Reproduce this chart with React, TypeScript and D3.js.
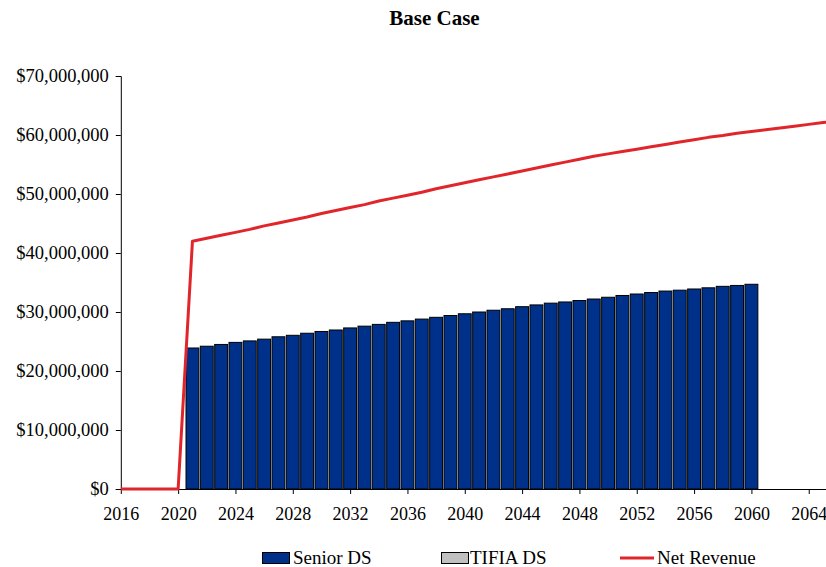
import React, { useEffect, useRef } from "react";
import * as d3 from "d3";

// years on the category axis (chart is cut off at the right edge)
const years = d3.range(2016, 2067);
const xTickYears = [2016, 2020, 2024, 2028, 2032, 2036, 2040, 2044, 2048, 2052, 2056, 2060, 2064];
const yTicks = [0, 10e6, 20e6, 30e6, 40e6, 50e6, 60e6, 70e6];

// Senior DS, 2021..2060 ($M)
const seniorYears = d3.range(2021, 2061);
const seniorDS = [
  23.9, 24.2, 24.5, 24.85, 25.1, 25.4, 25.8, 26.05, 26.4, 26.7,
  26.95, 27.3, 27.6, 27.9, 28.25, 28.5, 28.8, 29.1, 29.4, 29.7,
  30.0, 30.3, 30.55, 30.9, 31.2, 31.5, 31.7, 31.95, 32.2, 32.5,
  32.8, 33.05, 33.3, 33.55, 33.7, 33.9, 34.1, 34.35, 34.5, 34.7,
];

// Net Revenue, 2016..2066 ($M)
const netRevenue = [
  0, 0, 0, 0, 0,
  42.0, 42.5, 43.0, 43.5, 44.0, 44.6, 45.1, 45.6, 46.1, 46.7,
  47.2, 47.7, 48.2, 48.8, 49.3, 49.8, 50.3, 50.9, 51.4, 51.9,
  52.4, 52.9, 53.4, 53.9, 54.4, 54.9, 55.4, 55.9, 56.4, 56.8,
  57.2, 57.6, 58.0, 58.4, 58.8, 59.2, 59.6, 59.9, 60.3, 60.6,
  60.9, 61.2, 61.5, 61.8, 62.1, 62.4,
];

const W = 826;
const H = 567;
const FONT = "'Liberation Serif', 'Times New Roman', serif";
const NAVY = "#00318a";
const RED = "#e0262a";

export default function App() {
  const ref = useRef<SVGSVGElement>(null);

  useEffect(() => {
    const svg = d3.select(ref.current);
    svg.selectAll("*").remove();

    const x = d3.scaleLinear().domain([2016, 2066]).range([120.8, 837.4]);
    const y = d3.scaleLinear().domain([0, 70e6]).range([489, 76]);

    svg
      .append("text")
      .attr("x", 434.5)
      .attr("y", 25)
      .attr("text-anchor", "middle")
      .attr("font-family", FONT)
      .attr("font-weight", "bold")
      .attr("font-size", 21)
      .text("Base Case");

    // bars
    const step = x(2017) - x(2016);
    const bw = step * 0.9;
    svg
      .append("g")
      .selectAll("rect")
      .data(seniorDS)
      .join("rect")
      .attr("x", (d, i) => x(seniorYears[i]) - bw / 2)
      .attr("y", (d) => y(d * 1e6))
      .attr("width", bw)
      .attr("height", (d) => y(0) - y(d * 1e6))
      .attr("fill", NAVY)
      .attr("stroke", "#000")
      .attr("stroke-width", 1);

    // y axis
    const yAxis = svg
      .append("g")
      .attr("transform", `translate(${x(2016)},0)`)
      .call(
        d3
          .axisLeft(y)
          .tickValues(yTicks)
          .tickSize(5)
          .tickPadding(7)
          .tickFormat((d) => "$" + d3.format(",")(d as number))
      );
    yAxis.selectAll("path,line").attr("stroke", "#000");
    yAxis.selectAll("text").attr("font-family", FONT).attr("font-size", 18.5).attr("fill", "#000");

    // x axis
    const xAxis = svg
      .append("g")
      .attr("transform", `translate(0,${y(0)})`)
      .call(
        d3
          .axisBottom(x)
          .tickValues(xTickYears)
          .tickSize(5)
          .tickSizeOuter(0)
          .tickPadding(13)
          .tickFormat((d) => String(d))
      );
    xAxis.selectAll("path,line").attr("stroke", "#000");
    xAxis.selectAll("text").attr("font-family", FONT).attr("font-size", 18).attr("fill", "#000");

    // net revenue line
    const line = d3
      .line<number>()
      .x((d, i) => x(years[i]))
      .y((d) => y(d * 1e6));
    svg
      .append("path")
      .datum(netRevenue)
      .attr("fill", "none")
      .attr("stroke", RED)
      .attr("stroke-width", 3)
      .attr("stroke-linejoin", "round")
      .attr("d", line);

    // legend
    const lg = svg.append("g").attr("font-family", FONT).attr("font-size", 19);
    lg.append("rect").attr("x", 262.5).attr("y", 552.5).attr("width", 27).attr("height", 11)
      .attr("fill", NAVY).attr("stroke", "#000");
    lg.append("text").attr("x", 293).attr("y", 564).text("Senior DS");
    lg.append("rect").attr("x", 441.5).attr("y", 552.5).attr("width", 27).attr("height", 11)
      .attr("fill", "#c0c0c0").attr("stroke", "#000");
    lg.append("text").attr("x", 470).attr("y", 564).text("TIFIA DS");
    lg.append("line").attr("x1", 620).attr("x2", 654).attr("y1", 558).attr("y2", 558)
      .attr("stroke", RED).attr("stroke-width", 3);
    lg.append("text").attr("x", 657).attr("y", 564).text("Net Revenue");
  }, []);

  return (
    <svg
      ref={ref}
      width={W}
      height={H}
      style={{ position: "absolute", left: 0, top: 0, background: "#fff" }}
    />
  );
}
